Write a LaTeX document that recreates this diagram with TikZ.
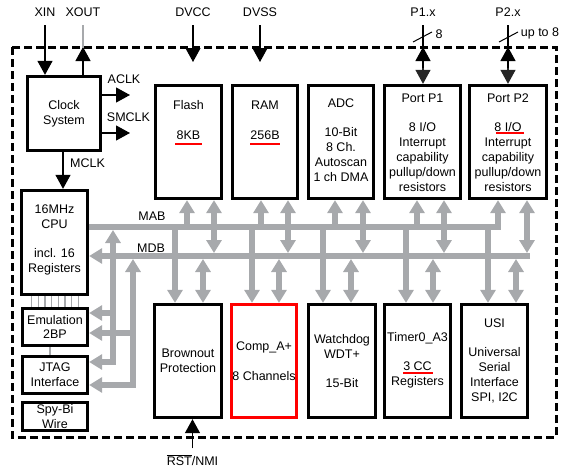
\documentclass[tikz,border=0pt]{standalone}
\usepackage{fontspec}
\setmainfont{Liberation Sans}
\usetikzlibrary{arrows.meta,backgrounds}
\definecolor{busgray}{RGB}{167,169,172}
\begin{document}
\begin{tikzpicture}[x=1pt,y=-1pt,
  font=\fontsize{12.5}{14.8}\selectfont,
  BT/.tip={Triangle[width=15pt,length=13pt]},
  KT/.tip={Triangle[width=15pt,length=14pt]},
  box/.style={draw=black, line width=3.3pt, fill=white, align=center, inner sep=0pt},
  txt/.style={align=center, inner sep=0pt},
  lbl/.style={inner sep=0pt},
  thinl/.style={line width=1.2pt},
  blkarrow/.style={thinl, -KT},
  bus/.style={draw=busgray, line width=5.5pt},
  glink/.style={draw=busgray, line width=1.3pt},
  redul/.style={draw=red, line width=1.6pt},
]
\useasboundingbox (0,0) rectangle (571,469);
% outer border
\draw[line width=3pt, dash pattern=on 8pt off 4pt] (12,47) rectangle (556,437);
\coordinate (btop) at (0,47);
\coordinate (mab) at (0,227);
\coordinate (mabS) at (0,230);
\coordinate (mdbN) at (0,253);
\coordinate (mdbS) at (0,259);

% left boxes
\node[box, minimum width=73pt, minimum height=74pt] (clk) at (64,113.5) {Clock\\System};
\node[box, minimum width=66pt, minimum height=104pt] (cpu) at (54.5,242.5) {};
\node[txt] at (54.5,240) {16MHz\\CPU\\[14.8pt]incl. 16\\Registers};
\node[box, minimum width=65pt, minimum height=37pt] (emu) at (55,327) {Emulation\\2BP};
\node[box, minimum width=65pt, minimum height=37pt] (jtag) at (55,375) {JTAG\\Interface};
\node[box, minimum width=65pt, minimum height=28pt] (spy) at (55,416.5) {Spy-Bi\\Wire};

% top boxes
\node[box, minimum width=66pt, minimum height=113pt] (flash) at (188.5,142) {};
\node[txt] at (188.5,120) {Flash\\[14.8pt]8KB};
\node[box, minimum width=65pt, minimum height=113pt] (ram) at (265,142) {};
\node[txt] at (265,120) {RAM\\[14.8pt]256B};
\node[box, minimum width=65pt, minimum height=113pt] (adc) at (341,142) {};
\node[txt] at (341,140) {ADC\\[14.8pt]10-Bit\\8 Ch.\\Autoscan\\1 ch DMA};
\node[box, minimum width=76pt, minimum height=113pt] (pone) at (422.5,142) {};
\node[txt] at (422.5,142.4) {Port P1\\[14.8pt]8 I/O\\Interrupt\\capability\\pullup/down\\resistors};
\node[box, minimum width=77pt, minimum height=113pt] (ptwo) at (508,142) {};
\node[txt] at (508,142.4) {Port P2\\[14.8pt]8 I/O\\Interrupt\\capability\\pullup/down\\resistors};

% bottom boxes
\node[box, minimum width=67pt, minimum height=113pt] (brown) at (188,361) {Brownout\\Protection};
\node[box, draw=red, minimum width=65pt, minimum height=113pt] (comp) at (264,361) {Comp\_A+\\[14.8pt]8 Channels};
\node[box, minimum width=67pt, minimum height=113pt] (wdt) at (342,361) {Watchdog\\WDT+\\[14.8pt]15-Bit};
\node[box, minimum width=66pt, minimum height=113pt] (timer) at (417.5,361) {};
\node[txt] at (417.5,360) {Timer0\_A3\\[14.8pt]3 CC\\Registers};
\node[box, minimum width=66pt, minimum height=113pt] (usi) at (494.5,361) {};
\node[txt] at (494.5,360.5) {USI\\[14.8pt]Universal\\Serial\\Interface\\SPI, I2C};

% red underlines
\draw[redul] (175,144) -- (202,144);
\draw[redul] (250,144) -- (280,144);
\draw[redul] (496,133) -- (524,133);
\draw[redul] (403,373) -- (433,373);

% labels
\node[lbl] (xin) at (45,12.5) {XIN};
\node[lbl] (xout) at (83,12.5) {XOUT};
\node[lbl] (dvcc) at (193,12.5) {DVCC};
\node[lbl] (dvss) at (260,12.5) {DVSS};
\node[lbl] (p1x) at (423,12.5) {P1.x};
\node[lbl] (p2x) at (508,12.5) {P2.x};
\node[lbl] at (439,34) {8};
\node[lbl] at (540,33) {up to 8};
\node[lbl] at (124,79) {ACLK};
\node[lbl] at (128.5,117) {SMCLK};
\node[lbl] at (87.5,163) {MCLK};
\node[lbl] at (152,216) {MAB};
\node[lbl] at (151,248) {MDB};
\node[lbl] (rst) at (192.5,460) {$\overline{\hbox{RST}}$/NMI};

% black connectors
\draw[blkarrow, shorten <=8pt] (xin.south) -- (xin.south |- clk.north);
\draw[thinl, draw=busgray, shorten <=8pt] (xout.south) -- (xout.south |- btop);
\draw[blkarrow] (xout.south |- clk.north) -- (xout.south |- btop);
\draw[blkarrow, shorten <=8pt] (dvcc.south) -- (dvcc.south |- 0,62);
\draw[blkarrow, shorten <=8pt] (dvss.south) -- (dvss.south |- 0,62);
\foreach \p/\b in {p1x/pone, p2x/ptwo} {
  \draw[thinl, shorten <=8pt] (\p.south) -- (\p.south |- 0,68);
  \draw[blkarrow] (\p.south |- 0,62) -- (\p.south |- btop);
  \draw[thinl, -KT, draw=black!85, fill=black!85] (\p.south |- 0,68) -- (\p.south |- \b.north);
}
\draw[line width=1pt] (413,42) -- (432,32);
\draw[line width=1pt] (499,42) -- (518,32);
\draw[blkarrow] (clk.east |- 0,95) -- (130,95);
\draw[blkarrow] (clk.east |- 0,133) -- (130,133);
\draw[blkarrow] (63,0 |- clk.south) -- (63,0 |- cpu.north);
\draw[blkarrow, shorten <=6pt] (rst.north) -- (rst.north |- brown.south);

% buses
\begin{scope}[on background layer]
  \draw[bus] (cpu.east |- mab) -- (501,0 |- mab);
  \draw[bus, -BT] (530,256) -- (cpu.east |- 0,256);
  \foreach \b/\a/\d in {flash/187/214, ram/261/288, adc/335/363, pone/417/444, ptwo/498/527} {
    \draw[bus, -BT] (\a,0 |- mab) -- (\a,0 |- \b.south);
    \draw[bus, BT-BT] (\d,0 |- mdbN) -- (\d,0 |- \b.south);
  }
  \foreach \b/\a/\d in {brown/175/203, comp/252/279, wdt/323/351, timer/406/433, usi/488/516} {
    \draw[bus, -BT] (\a,0 |- mab) -- (\a,0 |- \b.north);
    \draw[bus, BT-BT] (\d,0 |- mdbS) -- (\d,0 |- \b.north);
  }
  \draw[bus, BT-BT] (jtag.east |- 0,362) -- (113,362) -- (113,0 |- mabS);
  \draw[bus, -BT] (113,313) -- (emu.east |- 0,313);
  \draw[bus, BT-BT] (jtag.east |- 0,385) -- (133,385) -- (133,0 |- mdbS);
  \draw[bus, -BT] (133,333) -- (emu.east |- 0,333);
  \foreach \x in {31.7,38.4,45,51.7,58.4,65,71.7,78.4}
    \draw[glink] (\x,0 |- cpu.south) -- (\x,0 |- emu.north);
  \draw[glink] (50,0 |- emu.south) -- (50,0 |- jtag.north);
\end{scope}
\end{tikzpicture}
\end{document}
